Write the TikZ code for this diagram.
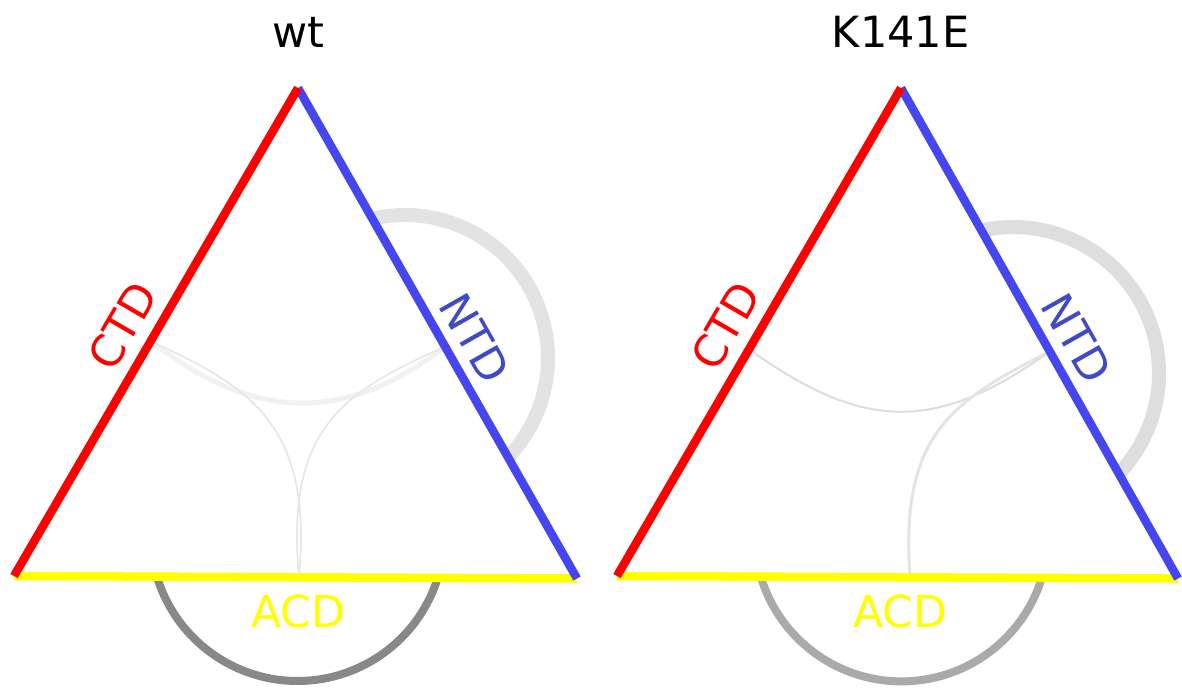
\documentclass[tikz,border=0pt]{standalone}
\usepackage{fontspec}
\setmainfont{DejaVu Sans}
\usetikzlibrary{calc}

\definecolor{ctdred}{HTML}{FF0000}
\definecolor{ntdblue}{HTML}{4646F0}
\definecolor{ntdtext}{HTML}{3F4BC6}
\definecolor{acdyellow}{HTML}{FFFF00}
\definecolor{wtntdarc}{HTML}{E3E3E3}
\definecolor{wtacdarc}{HTML}{888888}
\definecolor{mutntdarc}{HTML}{DEDEDE}
\definecolor{mutacdarc}{HTML}{AAAAAA}
\definecolor{faintlink}{HTML}{F1F1F1}
\definecolor{thinlink}{HTML}{E6E6E6}
\definecolor{mutlinkA}{HTML}{DDDDDD}
\definecolor{mutlinkB}{HTML}{E4E4E4}

\tikzset{
  sideline/.style={line width=8.5pt, line cap=butt},
  ntdself/.style={line width=14pt, line cap=butt},
  acdself/.style={line width=8pt, line cap=butt},
  dlabel/.style={font=\fontsize{44}{52}\selectfont, inner sep=0pt},
  paneltitle/.style={font=\fontsize{43}{50}\selectfont, inner sep=0pt, anchor=base},
}

\begin{document}
\begin{tikzpicture}[x=1pt,y=-1pt]
\useasboundingbox[fill=white] (0,0) rectangle (1182,689);

% ---------------- wild type ----------------
\coordinate (wA) at (298,88);
\coordinate (wB) at (14,576);
\coordinate (wC) at (577,578.5);
\coordinate (wPc) at (152,342);
\coordinate (wPn) at (444,347);
\coordinate (wPa) at (299,577);

% contacts within one domain
\draw[ntdself, wtntdarc] plot[domain=-103.2:43.9, samples=90, smooth]
  ({405+143*cos(\x)},{358+143*sin(\x)});
\draw[acdself, wtacdarc] plot[domain=17:163, samples=90, smooth]
  ({297.5+146.9*cos(\x)},{534.1+146.9*sin(\x)});

% contacts between domains
\draw[line width=5pt, faintlink] (wPc) .. controls +(100,78) and +(-100,78) .. (wPn);
\draw[line width=1.6pt, thinlink] (wPc) .. controls +(100,45) and +(14,-150) .. (wPa);
\draw[line width=1.6pt, thinlink] (wPn) .. controls +(-100,45) and +(-14,-150) .. (wPa);

% domains
\draw[sideline, acdyellow] (wB) -- (wC);
\draw[sideline, ntdblue] (wA) -- (wC);
\draw[sideline, ctdred] (wB) -- (wA);

\path (wB) -- (wA) node[dlabel, pos=0.48, sloped, above=15.5pt, text=ctdred] (wctd) {CTD};
\path (wA) -- (wC) node[dlabel, pos=0.54, sloped, above=14pt, text=ntdtext] (wntd) {NTD};
\path (wB) -- (wC) node[dlabel, pos=0.505, below=17pt, text=acdyellow] (wacd) {ACD};

\node[paneltitle] (wttitle) at (298.5,47) {wt};

% ---------------- K141E ----------------
\coordinate (kA) at (901,88);
\coordinate (kB) at (617,576);
\coordinate (kC) at (1178,578.5);
\coordinate (kPc) at (750,350);
\coordinate (kPn) at (1049,352);
\coordinate (kPa) at (910,577);

% contacts within one domain
\draw[ntdself, mutntdarc] plot[domain=-102.5:43.6, samples=90, smooth]
  ({1013+146*cos(\x)},{373+146*sin(\x)});
\draw[acdself, mutacdarc] plot[domain=17:163, samples=90, smooth]
  ({901.5+146.9*cos(\x)},{534.5+146.9*sin(\x)});

% contacts between domains
\draw[line width=2pt, mutlinkA] (kPc) .. controls +(114,81) and +(-114,81) .. (kPn);
\draw[line width=3pt, mutlinkB] (kPn) .. controls +(-100,50) and +(-10,-140) .. (kPa);

% domains
\draw[sideline, acdyellow] (kB) -- (kC);
\draw[sideline, ntdblue] (kA) -- (kC);
\draw[sideline, ctdred] (kB) -- (kA);

\path (kB) -- (kA) node[dlabel, pos=0.48, sloped, above=15.5pt, text=ctdred] (kctd) {CTD};
\path (kA) -- (kC) node[dlabel, pos=0.54, sloped, above=14pt, text=ntdtext] (kntd) {NTD};
\path (kB) -- (kC) node[dlabel, pos=0.505, below=17pt, text=acdyellow] (kacd) {ACD};

\node[paneltitle] (k141etitle) at (900.5,47) {K141E};
\end{tikzpicture}
\end{document}
